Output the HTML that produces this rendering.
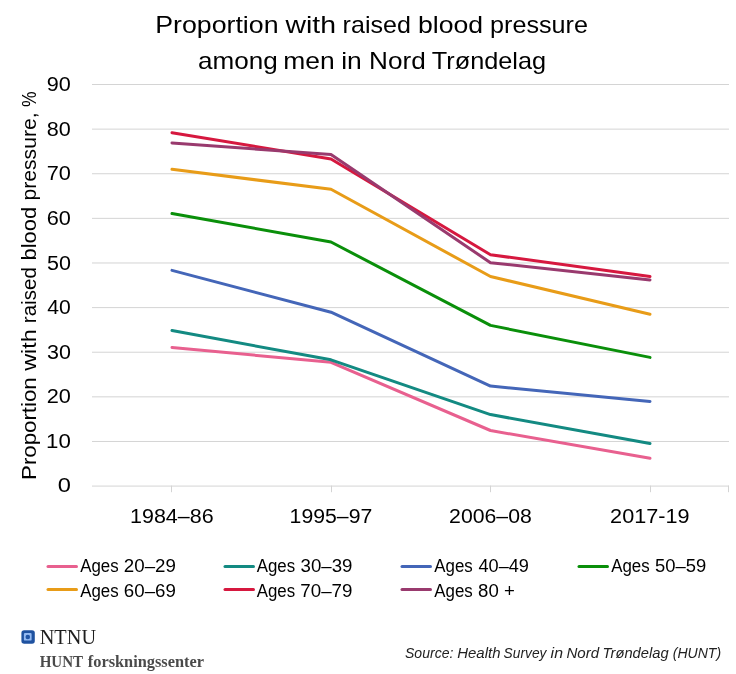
<!DOCTYPE html>
<html><head><meta charset="utf-8">
<style>
html,body{margin:0;padding:0;background:#fff;}
svg{display:block;will-change:transform;}
text{font-family:"Liberation Sans",sans-serif;}
</style></head>
<body>
<svg width="736" height="674" viewBox="0 0 736 674">
<rect width="736" height="674" fill="#fff"/>
<text x="155.21" y="33.00" font-size="24" textLength="123.33" lengthAdjust="spacingAndGlyphs" style='font-family:"Liberation Sans",sans-serif' fill="#000">Proportion</text>
<text x="285.54" y="33.00" font-size="24" textLength="50.50" lengthAdjust="spacingAndGlyphs" style='font-family:"Liberation Sans",sans-serif' fill="#000">with</text>
<text x="342.64" y="33.00" font-size="24" textLength="68.18" lengthAdjust="spacingAndGlyphs" style='font-family:"Liberation Sans",sans-serif' fill="#000">raised</text>
<text x="418.09" y="33.00" font-size="24" textLength="65.03" lengthAdjust="spacingAndGlyphs" style='font-family:"Liberation Sans",sans-serif' fill="#000">blood</text>
<text x="490.08" y="33.00" font-size="24" textLength="97.84" lengthAdjust="spacingAndGlyphs" style='font-family:"Liberation Sans",sans-serif' fill="#000">pressure</text>
<text x="198.09" y="68.50" font-size="24" textLength="79.69" lengthAdjust="spacingAndGlyphs" style='font-family:"Liberation Sans",sans-serif' fill="#000">among</text>
<text x="283.35" y="68.50" font-size="24" textLength="51.37" lengthAdjust="spacingAndGlyphs" style='font-family:"Liberation Sans",sans-serif' fill="#000">men</text>
<text x="341.23" y="68.50" font-size="24" textLength="20.59" lengthAdjust="spacingAndGlyphs" style='font-family:"Liberation Sans",sans-serif' fill="#000">in</text>
<text x="369.06" y="68.50" font-size="24" textLength="56.63" lengthAdjust="spacingAndGlyphs" style='font-family:"Liberation Sans",sans-serif' fill="#000">Nord</text>
<text x="431.84" y="68.50" font-size="24" textLength="114.28" lengthAdjust="spacingAndGlyphs" style='font-family:"Liberation Sans",sans-serif' fill="#000">Trøndelag</text>
<g fill="#d4d4d4">
<rect x="92" y="84.00" width="637" height="1"/>
<rect x="92" y="128.62" width="637" height="1"/>
<rect x="92" y="173.24" width="637" height="1"/>
<rect x="92" y="217.86" width="637" height="1"/>
<rect x="92" y="262.48" width="637" height="1"/>
<rect x="92" y="307.10" width="637" height="1"/>
<rect x="92" y="351.72" width="637" height="1"/>
<rect x="92" y="396.34" width="637" height="1"/>
<rect x="92" y="440.96" width="637" height="1"/>
<rect x="92" y="485.58" width="637" height="1"/>
<rect x="171" y="485.6" width="1" height="6.6"/>
<rect x="331" y="485.6" width="1" height="6.6"/>
<rect x="490" y="485.6" width="1" height="6.6"/>
<rect x="650" y="485.6" width="1" height="6.6"/>
<rect x="728" y="485.6" width="1" height="6.6"/>
</g>
<text x="46.79" y="91.35" font-size="20" textLength="24.06" lengthAdjust="spacingAndGlyphs" style='font-family:"Liberation Sans",sans-serif' fill="#000">90</text>
<text x="46.86" y="135.91" font-size="20" textLength="23.98" lengthAdjust="spacingAndGlyphs" style='font-family:"Liberation Sans",sans-serif' fill="#000">80</text>
<text x="46.69" y="180.47" font-size="20" textLength="24.16" lengthAdjust="spacingAndGlyphs" style='font-family:"Liberation Sans",sans-serif' fill="#000">70</text>
<text x="46.70" y="225.03" font-size="20" textLength="24.15" lengthAdjust="spacingAndGlyphs" style='font-family:"Liberation Sans",sans-serif' fill="#000">60</text>
<text x="46.94" y="269.59" font-size="20" textLength="23.90" lengthAdjust="spacingAndGlyphs" style='font-family:"Liberation Sans",sans-serif' fill="#000">50</text>
<text x="47.31" y="314.15" font-size="20" textLength="23.51" lengthAdjust="spacingAndGlyphs" style='font-family:"Liberation Sans",sans-serif' fill="#000">40</text>
<text x="46.98" y="358.71" font-size="20" textLength="23.85" lengthAdjust="spacingAndGlyphs" style='font-family:"Liberation Sans",sans-serif' fill="#000">30</text>
<text x="46.71" y="403.27" font-size="20" textLength="24.14" lengthAdjust="spacingAndGlyphs" style='font-family:"Liberation Sans",sans-serif' fill="#000">20</text>
<text x="46.10" y="447.83" font-size="20" textLength="24.77" lengthAdjust="spacingAndGlyphs" style='font-family:"Liberation Sans",sans-serif' fill="#000">10</text>
<text x="57.78" y="492.39" font-size="20" textLength="13.15" lengthAdjust="spacingAndGlyphs" style='font-family:"Liberation Sans",sans-serif' fill="#000">0</text>
<g transform="translate(35.5,0) rotate(-90)">
<text x="-479.92" y="0.00" font-size="20" textLength="102.57" lengthAdjust="spacingAndGlyphs" style='font-family:"Liberation Sans",sans-serif' fill="#000">Proportion</text>
<text x="-370.77" y="0.00" font-size="20" textLength="41.58" lengthAdjust="spacingAndGlyphs" style='font-family:"Liberation Sans",sans-serif' fill="#000">with</text>
<text x="-323.17" y="0.00" font-size="20" textLength="55.99" lengthAdjust="spacingAndGlyphs" style='font-family:"Liberation Sans",sans-serif' fill="#000">raised</text>
<text x="-260.51" y="0.00" font-size="20" textLength="53.63" lengthAdjust="spacingAndGlyphs" style='font-family:"Liberation Sans",sans-serif' fill="#000">blood</text>
<text x="-200.46" y="0.00" font-size="20" textLength="87.96" lengthAdjust="spacingAndGlyphs" style='font-family:"Liberation Sans",sans-serif' fill="#000">pressure,</text>
<text x="-107.02" y="0.00" font-size="20" textLength="15.55" lengthAdjust="spacingAndGlyphs" style='font-family:"Liberation Sans",sans-serif' fill="#000">%</text>
</g>
<text x="130.06" y="522.70" font-size="20" textLength="83.58" lengthAdjust="spacingAndGlyphs" style='font-family:"Liberation Sans",sans-serif' fill="#000">1984–86</text>
<text x="289.58" y="522.70" font-size="20" textLength="82.69" lengthAdjust="spacingAndGlyphs" style='font-family:"Liberation Sans",sans-serif' fill="#000">1995–97</text>
<text x="449.13" y="522.70" font-size="20" textLength="82.69" lengthAdjust="spacingAndGlyphs" style='font-family:"Liberation Sans",sans-serif' fill="#000">2006–08</text>
<text x="610.11" y="522.70" font-size="20" textLength="79.41" lengthAdjust="spacingAndGlyphs" style='font-family:"Liberation Sans",sans-serif' fill="#000">2017-19</text>
<g fill="none" stroke-width="3" stroke-linejoin="round" stroke-linecap="round">
<polyline stroke="#E8608F" points="172,347.5 331,362.3 490.5,430.5 650,458.3"/>
<polyline stroke="#138A82" points="172,330.6 331,359.8 490.5,414.6 650,443.4"/>
<polyline stroke="#4466B8" points="172,270.4 331,312.2 490.5,386.1 650,401.4"/>
<polyline stroke="#0A8F0A" points="172,213.5 331,242.0 490.5,325.4 650,357.4"/>
<polyline stroke="#E89C18" points="172,169.3 331,189.3 490.5,276.5 650,314.2"/>
<polyline stroke="#D6183F" points="172,132.7 331,159 490.5,254.7 650,276.6"/>
<polyline stroke="#993A6E" points="172,142.9 331,154.5 490.5,262.7 650,279.9"/>
</g>
<g stroke-width="3" stroke-linecap="round">
<line x1="48" y1="566.5" x2="76.5" y2="566.5" stroke="#E8608F"/>
<line x1="225" y1="566.5" x2="253.5" y2="566.5" stroke="#138A82"/>
<line x1="402" y1="566.5" x2="430.5" y2="566.5" stroke="#4466B8"/>
<line x1="579" y1="566.5" x2="607.5" y2="566.5" stroke="#0A8F0A"/>
<line x1="48" y1="589.5" x2="76.5" y2="589.5" stroke="#E89C18"/>
<line x1="225" y1="589.5" x2="253.5" y2="589.5" stroke="#D6183F"/>
<line x1="402" y1="589.5" x2="430.5" y2="589.5" stroke="#993A6E"/>
</g>
<text x="80.17" y="572.10" font-size="18" textLength="38.44" lengthAdjust="spacingAndGlyphs" style='font-family:"Liberation Sans",sans-serif' fill="#000">Ages</text>
<text x="123.86" y="572.10" font-size="18" textLength="52.03" lengthAdjust="spacingAndGlyphs" style='font-family:"Liberation Sans",sans-serif' fill="#000">20–29</text>
<text x="256.67" y="572.10" font-size="18" textLength="38.44" lengthAdjust="spacingAndGlyphs" style='font-family:"Liberation Sans",sans-serif' fill="#000">Ages</text>
<text x="300.59" y="572.10" font-size="18" textLength="51.89" lengthAdjust="spacingAndGlyphs" style='font-family:"Liberation Sans",sans-serif' fill="#000">30–39</text>
<text x="434.27" y="572.10" font-size="18" textLength="38.44" lengthAdjust="spacingAndGlyphs" style='font-family:"Liberation Sans",sans-serif' fill="#000">Ages</text>
<text x="478.48" y="572.10" font-size="18" textLength="50.48" lengthAdjust="spacingAndGlyphs" style='font-family:"Liberation Sans",sans-serif' fill="#000">40–49</text>
<text x="611.17" y="572.10" font-size="18" textLength="38.44" lengthAdjust="spacingAndGlyphs" style='font-family:"Liberation Sans",sans-serif' fill="#000">Ages</text>
<text x="655.06" y="572.10" font-size="18" textLength="51.21" lengthAdjust="spacingAndGlyphs" style='font-family:"Liberation Sans",sans-serif' fill="#000">50–59</text>
<text x="80.17" y="597.30" font-size="18" textLength="38.44" lengthAdjust="spacingAndGlyphs" style='font-family:"Liberation Sans",sans-serif' fill="#000">Ages</text>
<text x="123.85" y="597.30" font-size="18" textLength="52.04" lengthAdjust="spacingAndGlyphs" style='font-family:"Liberation Sans",sans-serif' fill="#000">60–69</text>
<text x="256.67" y="597.30" font-size="18" textLength="38.44" lengthAdjust="spacingAndGlyphs" style='font-family:"Liberation Sans",sans-serif' fill="#000">Ages</text>
<text x="300.34" y="597.30" font-size="18" textLength="52.15" lengthAdjust="spacingAndGlyphs" style='font-family:"Liberation Sans",sans-serif' fill="#000">70–79</text>
<text x="434.27" y="597.30" font-size="18" textLength="38.44" lengthAdjust="spacingAndGlyphs" style='font-family:"Liberation Sans",sans-serif' fill="#000">Ages</text>
<text x="478.09" y="597.30" font-size="18" textLength="36.73" lengthAdjust="spacingAndGlyphs" style='font-family:"Liberation Sans",sans-serif' fill="#000">80 +</text>
<rect x="21.4" y="630.3" width="13.4" height="13.5" rx="2.8" fill="#1F52A0"/>
<rect x="23.9" y="632.9" width="7.7" height="7.7" rx="1.2" fill="#94BAF2"/>
<circle cx="27.8" cy="637.0" r="2.3" fill="#2155A5"/>
<text x="39.72" y="643.80" font-size="21" textLength="56.31" lengthAdjust="spacingAndGlyphs" style='font-family:"Liberation Serif",serif' fill="#1e1e1e">NTNU</text>
<text x="39.64" y="667.00" font-size="16" textLength="43.38" lengthAdjust="spacingAndGlyphs" style='font-family:"Liberation Serif",serif' fill="#4a4a4a" font-weight="bold">HUNT</text>
<text x="87.78" y="667.00" font-size="16" textLength="116.27" lengthAdjust="spacingAndGlyphs" style='font-family:"Liberation Serif",serif' fill="#4a4a4a" font-weight="bold">forskningssenter</text>
<text x="405.00" y="658.10" font-size="14" textLength="48.36" lengthAdjust="spacingAndGlyphs" style='font-family:"Liberation Sans",sans-serif' fill="#222" font-style="italic">Source:</text>
<text x="457.24" y="658.10" font-size="14" textLength="43.25" lengthAdjust="spacingAndGlyphs" style='font-family:"Liberation Sans",sans-serif' fill="#222" font-style="italic">Health</text>
<text x="503.61" y="658.10" font-size="14" textLength="42.80" lengthAdjust="spacingAndGlyphs" style='font-family:"Liberation Sans",sans-serif' fill="#222" font-style="italic">Survey</text>
<text x="550.64" y="658.10" font-size="14" textLength="12.38" lengthAdjust="spacingAndGlyphs" style='font-family:"Liberation Sans",sans-serif' fill="#222" font-style="italic">in</text>
<text x="566.44" y="658.10" font-size="14" textLength="32.67" lengthAdjust="spacingAndGlyphs" style='font-family:"Liberation Sans",sans-serif' fill="#222" font-style="italic">Nord</text>
<text x="602.60" y="658.10" font-size="14" textLength="66.03" lengthAdjust="spacingAndGlyphs" style='font-family:"Liberation Sans",sans-serif' fill="#222" font-style="italic">Trøndelag</text>
<text x="672.74" y="658.10" font-size="14" textLength="48.40" lengthAdjust="spacingAndGlyphs" style='font-family:"Liberation Sans",sans-serif' fill="#222" font-style="italic">(HUNT)</text>
</svg>
</body></html>
